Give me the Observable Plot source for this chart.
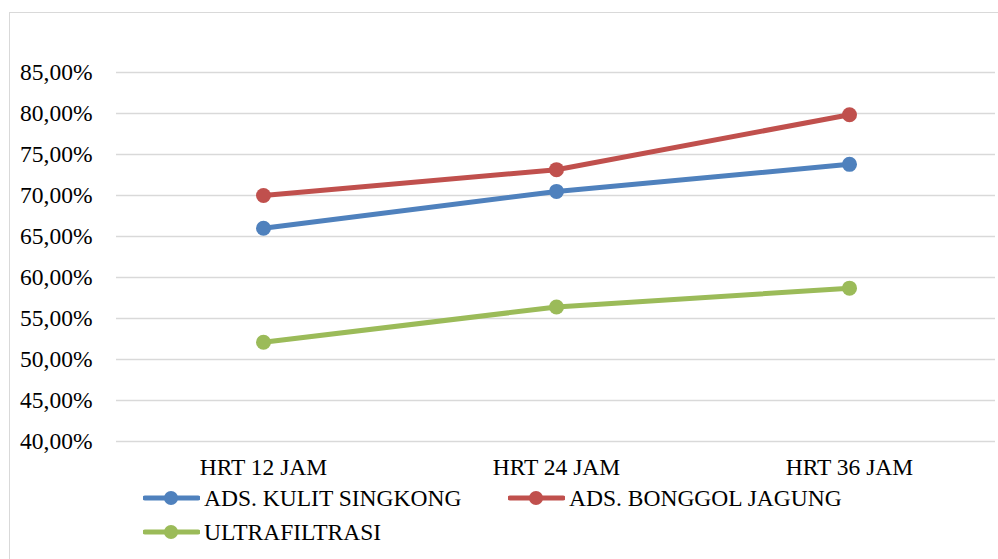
<!DOCTYPE html>
<html>
<head>
<meta charset="utf-8">
<script src="https://cdn.jsdelivr.net/npm/d3@7"></script>
<script src="https://cdn.jsdelivr.net/npm/@observablehq/plot@0.6"></script>
<style>
  html, body { margin: 0; padding: 0; background: #fff; }
  body { width: 998px; height: 559px; position: relative; overflow: hidden; font-family: 'Liberation Serif', serif; }
  #frame { position: absolute; left: 9px; top: 12px; width: 988px; height: 560px;
           border-top: 1.4px solid #d9d9d9; border-left: 1.4px solid #d9d9d9; pointer-events: none; }
  #chart { position: absolute; left: 0; top: 0; }
  #legend { position: absolute; left: 143px; top: 481px; width: 760px; display: flex; flex-wrap: wrap; }
  .item { width: 365px; height: 34px; display: flex; align-items: center; font-size: 23.5px; color: #000; white-space: nowrap; }
  .item svg { margin-right: 4px; flex: none; }
</style>
</head>
<body>
<div id="chart"></div>
<div id="legend"></div>
<div id="frame"></div>
<script>
// Hydraulic retention time categories
const categories = ["HRT 12 JAM", "HRT 24 JAM", "HRT 36 JAM"];

// Removal efficiency (%) per treatment
const kulitSingkong = [66.0, 70.5, 73.8];
const bonggolJagung = [70.0, 73.15, 79.85];
const ultrafiltrasi = [52.1, 56.4, 58.7];

const seriesNames = ["ADS. KULIT SINGKONG", "ADS. BONGGOL JAGUNG", "ULTRAFILTRASI"];
const seriesValues = [kulitSingkong, bonggolJagung, ultrafiltrasi];
const seriesColors = ["#4F81BD", "#C0504D", "#9BBB59"];

const yTicks = [40, 45, 50, 55, 60, 65, 70, 75, 80, 85];

const rows = seriesNames.flatMap((name, i) =>
  categories.map((cat, j) => ({series: name, hrt: cat, value: seriesValues[i][j]}))
);

const fmt = d => d.toFixed(2).replace(".", ",") + "%";
const serif = "'Liberation Serif', serif";

const chart = Plot.plot({
  width: 998,
  height: 485,
  marginLeft: 116,
  marginRight: 3,
  marginTop: 72,
  marginBottom: 44,
  style: {fontFamily: serif, fontSize: "23.5px", color: "#000", background: "transparent"},
  x: {type: "point", domain: categories, padding: 0.5},
  y: {domain: [40, 85]},
  color: {domain: seriesNames, range: seriesColors},
  marks: [
    Plot.ruleY(yTicks, {stroke: "#d9d9d9", strokeWidth: 1.4}),
    Plot.axisY({ticks: yTicks, tickFormat: fmt, tickSize: 0, tickPadding: 24, label: null, fontFamily: serif}),
    Plot.axisX({tickSize: 0, tickPadding: 17, label: null, fontFamily: serif}),
    Plot.line(rows, {x: "hrt", y: "value", z: "series", stroke: "series", strokeWidth: 5, strokeLinecap: "round"}),
    Plot.dot(rows, {x: "hrt", y: "value", fill: "series", r: 7.5})
  ]
});
// Force the serif face on every label of the chart
chart.style.setProperty("font-family", serif, "important");
chart.querySelectorAll("g, text").forEach(el => el.style.setProperty("font-family", serif, "important"));
document.getElementById("chart").appendChild(chart);

// Legend: line + marker swatches
const legend = document.getElementById("legend");
seriesNames.forEach((name, i) => {
  const item = document.createElement("div");
  item.className = "item";
  item.innerHTML =
    `<svg width="57" height="18" viewBox="0 0 57 18">` +
    `<line x1="2" y1="9" x2="55" y2="9" stroke="${seriesColors[i]}" stroke-width="5" stroke-linecap="round"/>` +
    `<circle cx="28" cy="9" r="7" fill="${seriesColors[i]}"/></svg>`;
  const label = document.createElement("span");
  label.textContent = name;
  label.style.setProperty("font-family", serif, "important");
  item.appendChild(label);
  item.style.setProperty("font-family", serif, "important");
  legend.appendChild(item);
});
</script>
</body>
</html>
